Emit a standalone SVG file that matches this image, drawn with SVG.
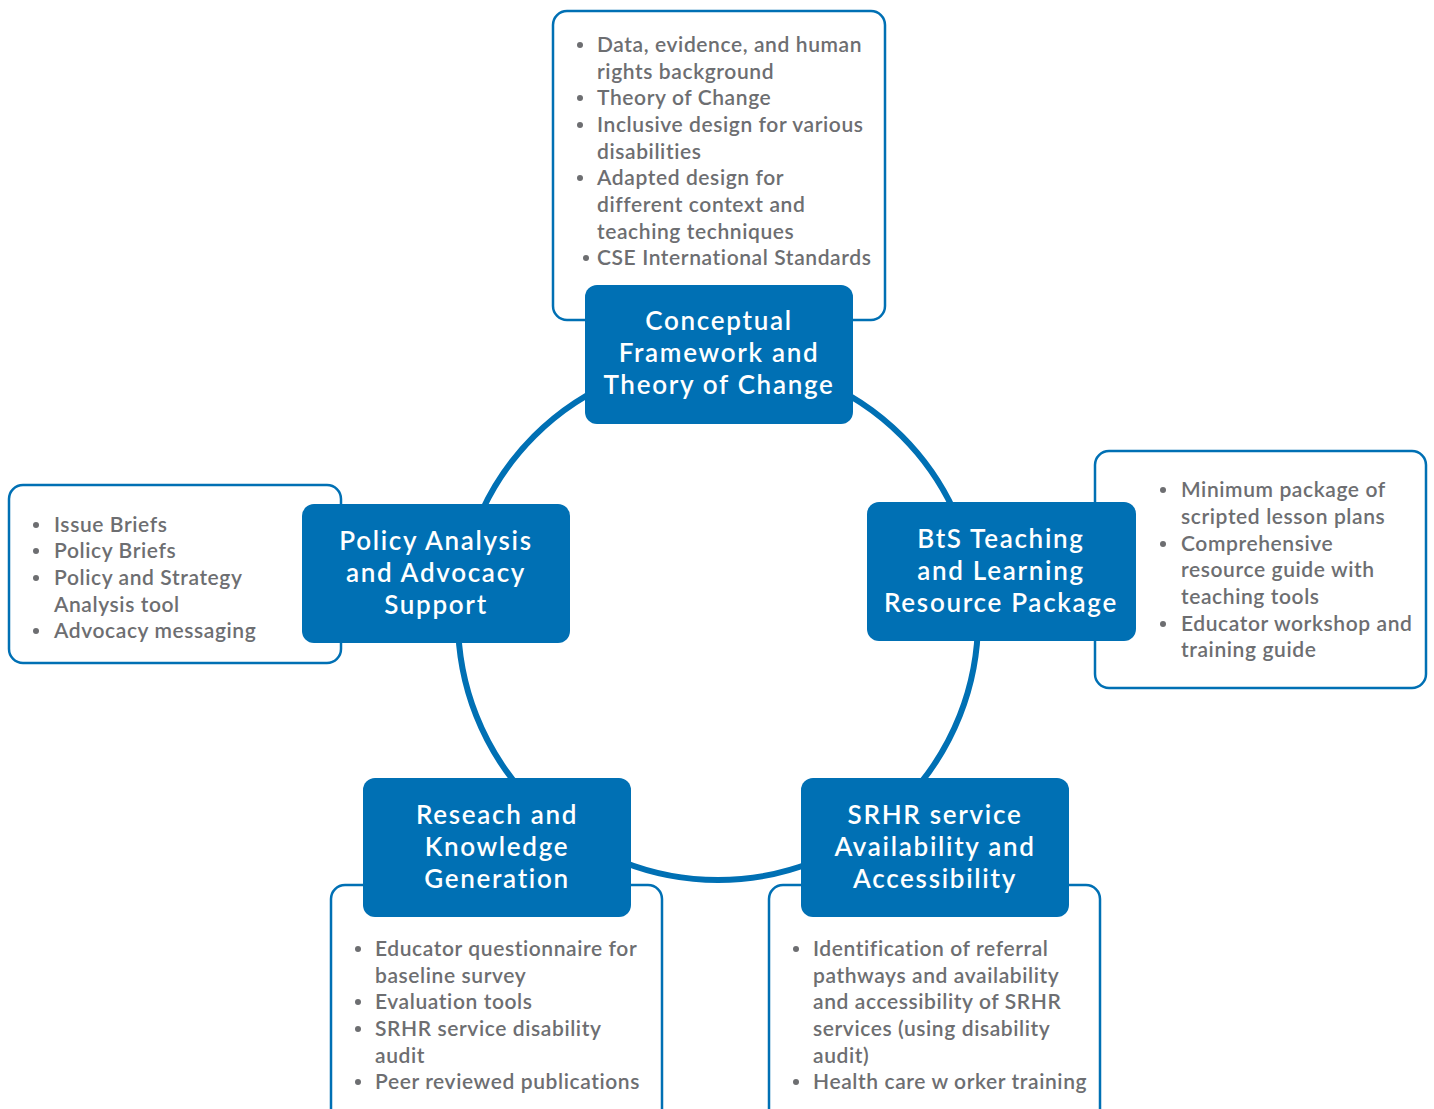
<svg xmlns="http://www.w3.org/2000/svg" width="1434" height="1109" viewBox="0 0 1434 1109">
<style>
.ring{fill:none;stroke:#0070b4;stroke-width:6}
.box{fill:#fff;stroke:#0070b4;stroke-width:2.5}
.node{fill:#0070b4}
.title{font-family:Lato,"Noto Sans",sans-serif;font-size:26px;font-weight:600;fill:#fff;text-anchor:middle;letter-spacing:1.7px}
.item{font-family:Lato,"Noto Sans",sans-serif;font-size:21px;font-weight:600;fill:#6d6e71;letter-spacing:0.6px}
.dot{fill:#6d6e71}
</style>
<rect width="1434" height="1109" fill="#fff"/>
<g id="connectors">
<circle class="ring" cx="718" cy="620" r="260"/>
</g>
<g id="detail-top">
<rect class="box" x="553" y="11" width="332" height="309" rx="14"/>
<g class="item">
<text x="597" y="52">Data, evidence, and human</text>
<text x="597" y="79">rights background</text>
<text x="597" y="105">Theory of Change</text>
<text x="597" y="132">Inclusive design for various</text>
<text x="597" y="159">disabilities</text>
<text x="597" y="185">Adapted design for</text>
<text x="597" y="212">different context and</text>
<text x="597" y="239">teaching techniques</text>
<text x="597" y="265">CSE International Standards</text>
</g>
<circle class="dot" cx="580" cy="45" r="3"/>
<circle class="dot" cx="580" cy="98" r="3"/>
<circle class="dot" cx="580" cy="125" r="3"/>
<circle class="dot" cx="580" cy="178" r="3"/>
<circle class="dot" cx="586" cy="258" r="3"/>
</g>
<g id="detail-left">
<rect class="box" x="9" y="485" width="332" height="178" rx="14"/>
<g class="item">
<text x="54" y="532">Issue Briefs</text>
<text x="54" y="558">Policy Briefs</text>
<text x="54" y="585">Policy and Strategy</text>
<text x="54" y="612">Analysis tool</text>
<text x="54" y="638">Advocacy messaging</text>
</g>
<circle class="dot" cx="36" cy="525" r="3"/>
<circle class="dot" cx="36" cy="551" r="3"/>
<circle class="dot" cx="36" cy="578" r="3"/>
<circle class="dot" cx="36" cy="631" r="3"/>
</g>
<g id="detail-right">
<rect class="box" x="1095" y="451" width="331" height="237" rx="14"/>
<g class="item">
<text x="1181" y="497">Minimum package of</text>
<text x="1181" y="524">scripted lesson plans</text>
<text x="1181" y="551">Comprehensive</text>
<text x="1181" y="577">resource guide with</text>
<text x="1181" y="604">teaching tools</text>
<text x="1181" y="631">Educator workshop and</text>
<text x="1181" y="657">training guide</text>
</g>
<circle class="dot" cx="1163" cy="490" r="3"/>
<circle class="dot" cx="1163" cy="544" r="3"/>
<circle class="dot" cx="1163" cy="624" r="3"/>
</g>
<g id="detail-bottom-left">
<rect class="box" x="331" y="885" width="331" height="240" rx="14"/>
<g class="item">
<text x="375" y="956">Educator questionnaire for</text>
<text x="375" y="983">baseline survey</text>
<text x="375" y="1009">Evaluation tools</text>
<text x="375" y="1036">SRHR service disability</text>
<text x="375" y="1063">audit</text>
<text x="375" y="1089">Peer reviewed publications</text>
</g>
<circle class="dot" cx="358" cy="949" r="3"/>
<circle class="dot" cx="358" cy="1002" r="3"/>
<circle class="dot" cx="358" cy="1029" r="3"/>
<circle class="dot" cx="358" cy="1082" r="3"/>
</g>
<g id="detail-bottom-right">
<rect class="box" x="769" y="885" width="331" height="240" rx="14"/>
<g class="item">
<text x="813" y="956">Identification of referral</text>
<text x="813" y="983">pathways and availability</text>
<text x="813" y="1009">and accessibility of SRHR</text>
<text x="813" y="1036">services (using disability</text>
<text x="813" y="1063">audit)</text>
<text x="813" y="1089">Health care w orker training</text>
</g>
<circle class="dot" cx="796" cy="949" r="3"/>
<circle class="dot" cx="796" cy="1082" r="3"/>
</g>
<g id="node-conceptual">
<rect class="node" x="585" y="285" width="268" height="139" rx="12"/>
<text class="title" x="719" y="330">Conceptual</text>
<text class="title" x="719" y="362">Framework and</text>
<text class="title" x="719" y="394">Theory of Change</text>
</g>
<g id="node-policy">
<rect class="node" x="302" y="504" width="268" height="139" rx="12"/>
<text class="title" x="436" y="550">Policy Analysis</text>
<text class="title" x="436" y="582">and Advocacy</text>
<text class="title" x="436" y="614">Support</text>
</g>
<g id="node-bts">
<rect class="node" x="867" y="502" width="269" height="139" rx="12"/>
<text class="title" x="1001" y="548">BtS Teaching</text>
<text class="title" x="1001" y="580">and Learning</text>
<text class="title" x="1001" y="612">Resource Package</text>
</g>
<g id="node-research">
<rect class="node" x="363" y="778" width="268" height="139" rx="12"/>
<text class="title" x="497" y="824">Reseach and</text>
<text class="title" x="497" y="856">Knowledge</text>
<text class="title" x="497" y="888">Generation</text>
</g>
<g id="node-srhr">
<rect class="node" x="801" y="778" width="268" height="139" rx="12"/>
<text class="title" x="935" y="824">SRHR service</text>
<text class="title" x="935" y="856">Availability and</text>
<text class="title" x="935" y="888">Accessibility</text>
</g>
</svg>
